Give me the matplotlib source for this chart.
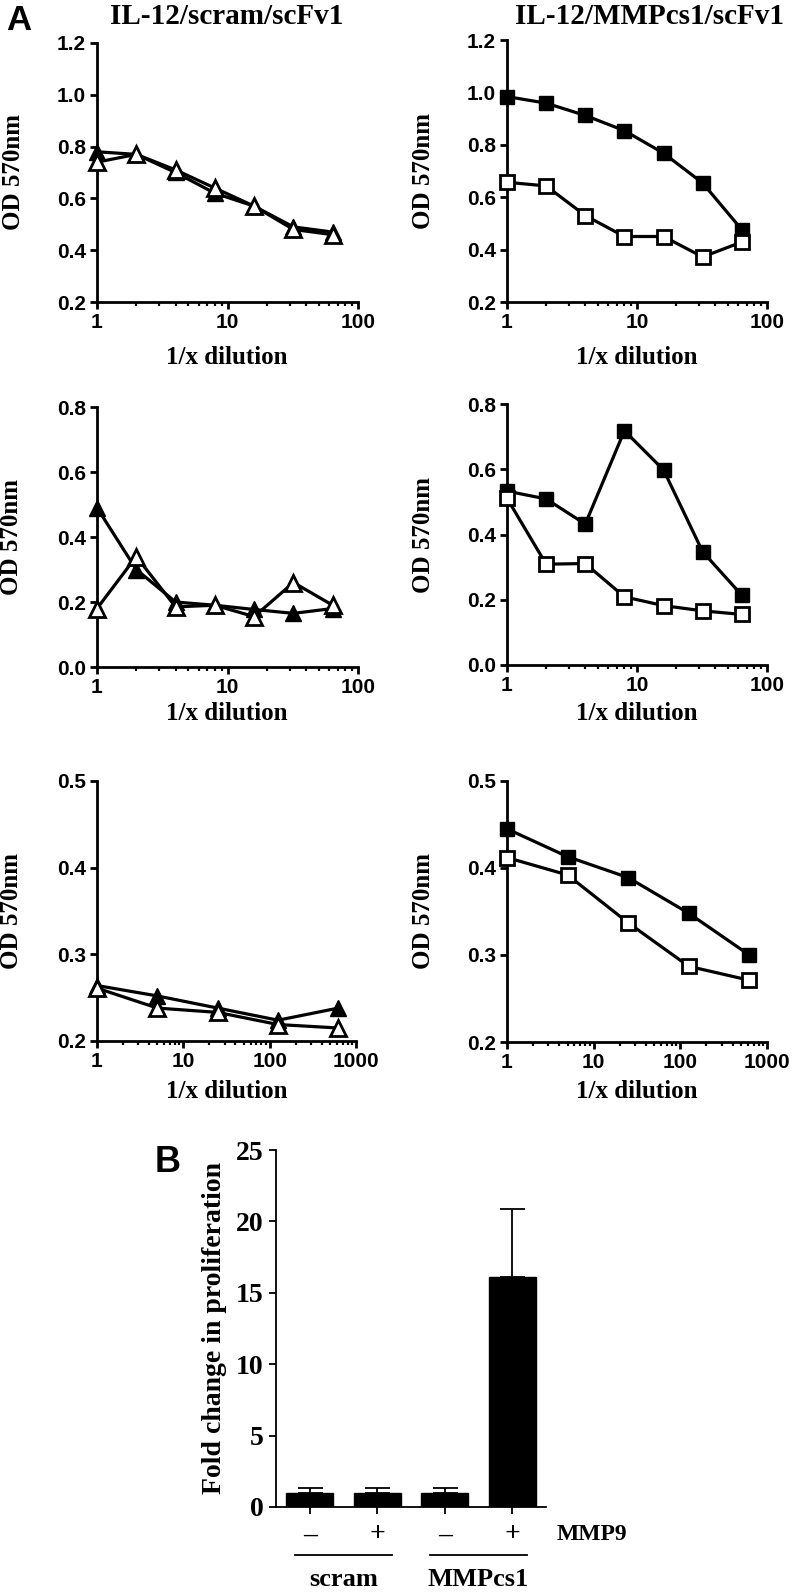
import matplotlib
matplotlib.use("Agg")
import matplotlib.pyplot as plt
from matplotlib.ticker import FixedLocator, FixedFormatter, NullFormatter, LogLocator

# ---------------- data ----------------
dil_a = [1, 2, 4, 8, 16, 32, 64]
dil_c = [1, 5, 25, 125, 625]

# Row 1
scram1_filled = [0.78, 0.77, 0.70, 0.62, 0.57, 0.49, 0.47]
scram1_open = [0.74, 0.77, 0.71, 0.64, 0.57, 0.48, 0.46]
mmp1_filled = [0.984, 0.959, 0.912, 0.854, 0.768, 0.654, 0.476]
mmp1_open = [0.657, 0.643, 0.530, 0.450, 0.450, 0.372, 0.429]

# Row 2
scram2_filled = [0.49, 0.30, 0.20, 0.19, 0.177, 0.165, 0.18]
scram2_open = [0.18, 0.34, 0.185, 0.19, 0.155, 0.26, 0.19]
mmp2_filled = [0.533, 0.509, 0.432, 0.718, 0.598, 0.347, 0.214]
mmp2_open = [0.511, 0.309, 0.311, 0.209, 0.182, 0.166, 0.155]

# Row 3
scram3_filled = [0.264, 0.252, 0.238, 0.224, 0.238]
scram3_open = [0.261, 0.238, 0.233, 0.219, 0.215]
mmp3_filled = [0.445, 0.413, 0.389, 0.348, 0.300]
mmp3_open = [0.412, 0.392, 0.337, 0.287, 0.271]

# Panel B
bar_labels = ["\u2013", "+", "\u2013", "+"]
bar_values = [1.0, 1.0, 1.0, 16.1]
bar_err = [0.33, 0.33, 0.33, 4.8]
groups = ["scram", "MMPcs1"]

titles = ["IL-12/scram/scFv1", "IL-12/MMPcs1/scFv1"]

# ---------------- layout ----------------
W, H = 792, 1594
fig = plt.figure(figsize=(W / 100, H / 100), dpi=100)

SANS = "Liberation Sans"
SERIF = "Liberation Serif"


def rect(x0, y0, x1, y1):
    return [x0 / W, 1 - y1 / H, (x1 - x0) / W, (y1 - y0) / H]


def ftext(x, y, s, **kw):
    fig.text(x / W, 1 - y / H, s, **kw)


def line_panel(r, xs, filled, opened, marker, ylim, yticks, xmax, xticks):
    ax = fig.add_axes(rect(*r))
    ms = 11 if marker == "^" else 9.5
    ax.plot(xs, filled, color="black", lw=2.3, marker=marker, ms=ms,
            mfc="black", mec="black", zorder=3, clip_on=False)
    ax.plot(xs, opened, color="black", lw=2.3, marker=marker, ms=ms,
            mfc="white", mec="black", mew=2.0, zorder=4, clip_on=False)
    ax.set_xscale("log")
    ax.set_xlim(1, xmax)
    ax.set_ylim(*ylim)
    ax.xaxis.set_major_locator(FixedLocator(xticks))
    ax.xaxis.set_major_formatter(FixedFormatter([str(t) for t in xticks]))
    ax.xaxis.set_minor_locator(LogLocator(base=10, subs=range(2, 10)))
    ax.xaxis.set_minor_formatter(NullFormatter())
    ax.yaxis.set_major_locator(FixedLocator(yticks))
    ax.yaxis.set_major_formatter(FixedFormatter(["%.1f" % t for t in yticks]))
    for s in ["top", "right"]:
        ax.spines[s].set_visible(False)
    for s in ["left", "bottom"]:
        ax.spines[s].set_linewidth(2.0)
    ax.tick_params(which="major", direction="out", length=5, width=2.0, pad=3)
    ax.tick_params(which="minor", direction="out", length=3.2, width=1.6)
    for lab in ax.get_xticklabels() + ax.get_yticklabels():
        lab.set_fontfamily(SANS)
        lab.set_fontweight("bold")
        lab.set_fontsize(15)
    return ax


yt1 = [0.2, 0.4, 0.6, 0.8, 1.0, 1.2]
yt2 = [0.0, 0.2, 0.4, 0.6, 0.8]
yt3 = [0.2, 0.3, 0.4, 0.5]

line_panel((97, 43, 358, 302), dil_a, scram1_filled, scram1_open, "^", (0.2, 1.2), yt1, 100, [1, 10, 100])
line_panel((507, 40, 767, 302), dil_a, mmp1_filled, mmp1_open, "s", (0.2, 1.2), yt1, 100, [1, 10, 100])
line_panel((97, 407, 358, 667), dil_a, scram2_filled, scram2_open, "^", (0.0, 0.8), yt2, 100, [1, 10, 100])
line_panel((507, 404, 767, 665), dil_a, mmp2_filled, mmp2_open, "s", (0.0, 0.8), yt2, 100, [1, 10, 100])
line_panel((97, 781, 356, 1041), dil_c, scram3_filled, scram3_open, "^", (0.2, 0.5), yt3, 1000, [1, 10, 100, 1000])
line_panel((507, 781, 767, 1042), dil_c, mmp3_filled, mmp3_open, "s", (0.2, 0.5), yt3, 1000, [1, 10, 100, 1000])

serif_kw = dict(family=SERIF, weight="bold", ha="center", va="center")
ftext(227, 17, titles[0], fontsize=21, **serif_kw)
ftext(649, 17, titles[1], fontsize=21, **serif_kw)
ftext(19, 20, "A", family=SANS, weight="bold", fontsize=25, ha="center", va="center")

for (x, y) in [(227, 358), (637, 358), (227, 714), (637, 714), (227, 1092), (637, 1092)]:
    ftext(x, y, "1/x dilution", fontsize=18, **serif_kw)
for (x, y) in [(13, 172), (423, 171), (12, 537), (423, 535), (12, 911), (423, 911)]:
    ftext(x, y, "OD 570nm", fontsize=18, rotation=90, **serif_kw)

# ---------------- Panel B ----------------
axb = fig.add_axes(rect(276, 1150, 546, 1507))
pos = list(range(len(bar_values)))
axb.bar(pos, bar_values, width=0.7, color="black", edgecolor="black", zorder=2)
axb.errorbar(pos, bar_values, yerr=[[0] * len(bar_err), bar_err], fmt="none",
             ecolor="black", elinewidth=1.3, capsize=9, capthick=1.3, zorder=1)
axb.set_xlim(-0.5, 3.5)
axb.set_ylim(0, 25)
axb.set_yticks([0, 5, 10, 15, 20, 25])
axb.set_xticks(pos)
axb.set_xticklabels(bar_labels)
for s in ["top", "right"]:
    axb.spines[s].set_visible(False)
for s in ["left", "bottom"]:
    axb.spines[s].set_linewidth(1.3)
axb.tick_params(direction="out", length=5, width=1.3)
axb.tick_params(axis="x", pad=6)
axb.tick_params(axis="y", pad=4)
for lab in axb.get_xticklabels() + axb.get_yticklabels():
    lab.set_fontfamily(SERIF)
    lab.set_fontweight("bold")
    lab.set_fontsize(20)
axb.set_ylabel("Fold change in proliferation", family=SERIF, weight="bold", fontsize=20, labelpad=6)

tr = axb.get_xaxis_transform()
axb.text(3.66, -0.078, "MMP9", transform=tr, family=SERIF, weight="bold", fontsize=17,
         ha="left", va="center")
for gi, g in enumerate(groups):
    c = 2 * gi + 0.5
    axb.plot([c - 0.72, c + 0.72], [-0.134, -0.134], transform=tr, color="black", lw=1.3, clip_on=False)
    axb.text(c, -0.204, g, transform=tr, family=SERIF, weight="bold", fontsize=19, ha="center", va="center")

ftext(168, 1162, "B", family=SANS, weight="bold", fontsize=26, ha="center", va="center")

fig.savefig("out.png", dpi=100)
